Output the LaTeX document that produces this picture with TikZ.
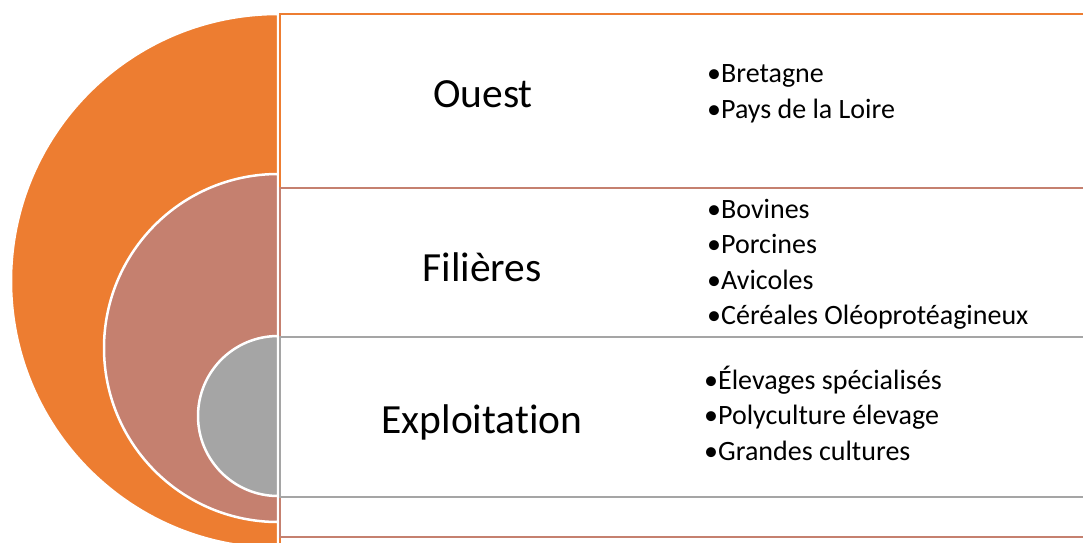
\documentclass[tikz,border=0pt]{standalone}
\usepackage{fontspec}
\setmainfont{Carlito}[Ligatures={NoCommon}]
\definecolor{org}{HTML}{ED7D31}
\definecolor{brn}{HTML}{C5806F}
\definecolor{gry}{HTML}{A5A5A5}
\tikzset{
  halfdisk/.style={draw=white, line width=2.5pt},
  panel/.style={line width=2.5pt, fill=white},
  title/.style={inner sep=0pt, anchor=base, font=\fontsize{41.5}{50}\selectfont},
  item/.style={inner sep=0pt, anchor=base west, font=\fontsize{28}{33}\selectfont},
}
\begin{document}
\begin{tikzpicture}[x=1pt,y=-1pt]
\useasboundingbox (0,0) rectangle (1083,542);
% half disks
\path[halfdisk, fill=org] (278,14) arc[start angle=270, end angle=90, radius=267] -- cycle;
\path[halfdisk, fill=brn] (278,174) arc[start angle=270, end angle=90, radius=174] -- cycle;
\path[halfdisk, fill=gry] (278,336) arc[start angle=270, end angle=90, radius=80] -- cycle;
% panels
\draw[panel, draw=org] (280,14) rectangle (1100,560);
\draw[panel, draw=brn] (280,188) rectangle (1100,537);
\draw[panel, draw=gry] (280,337) rectangle (1100,497);
% titles
\node[title] (ouest) at (483,107) {Ouest};
\node[title] (filieres) at (482,281) {Filières};
\node[title] (exploitation) at (482,433) {Exploitation};
% items
\node[item] (i1) at (707,82) {•Bretagne};
\node[item] (i2) at (707,118) {•Pays de la Loire};
\node[item] (i3) at (707,218) {•Bovines};
\node[item] (i4) at (707,253.5) {•Porcines};
\node[item] (i5) at (707,289) {•Avicoles};
\node[item] (i6) at (707,324.5) {•Céréales Oléoprotéagineux};
\node[item] (i7) at (704,389) {•Élevages spécialisés};
\node[item] (i8) at (704,424.5) {•Polyculture élevage};
\node[item] (i9) at (704,460) {•Grandes cultures};
\end{tikzpicture}
\end{document}
